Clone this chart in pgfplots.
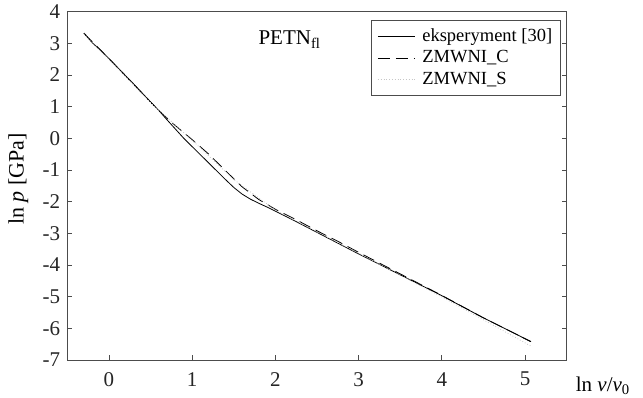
\documentclass[border=0pt]{standalone}
\usepackage{fontspec}
\setmainfont{Liberation Serif}
\usepackage{pgfplots}
\pgfplotsset{compat=1.18}
\begin{document}
\fontsize{21}{24}\selectfont
\begin{tikzpicture}
\useasboundingbox (-67.3pt,-37pt) rectangle (575.7pt,360pt);
\begin{axis}[
  at={(0pt,0pt)}, anchor=south west,
  scale only axis, width=499.4pt, height=348.3pt,
  xmin=-0.5, xmax=5.5, ymin=-7, ymax=4,
  xtick={0,1,2,3,4,5}, ytick={-7,-6,-5,-4,-3,-2,-1,0,1,2,3,4},
  tick align=inside, xtick pos=bottom, ytick pos=both,
  major tick length=5pt,
  axis line style={gray!60!black, line width=0.8pt},
  tick style={gray!60!black, line width=0.8pt},
  /pgf/number format/assume math mode=true,
  ticklabel style={font=\fontsize{21}{24}\selectfont, text=black!85},
  xticklabel style={yshift=-5pt},
  xlabel={ln \textit{v}/\textit{v}\textsubscript{0}},
  xlabel style={at={(axis description cs:1,0)}, anchor=base west, xshift=2pt, yshift=-31pt, font=\fontsize{21}{24}\selectfont},
  ylabel={ln \textit{p} [GPa]},
  ylabel style={at={(axis description cs:-0.098,0.52)}, anchor=center, font=\fontsize{22}{24}\selectfont},
  legend style={at={(axis description cs:0.988,0.976)}, anchor=north east,
    draw=gray!60!black, line width=0.8pt, font=\fontsize{18.5}{21}\selectfont,
    row sep=2pt, inner xsep=6pt, inner ysep=6pt,
    /tikz/every odd column/.append style={column sep=5pt}},
  legend cell align=left,
  legend image code/.code={\draw[#1] (0pt,0pt) -- (37pt,0pt);},
]
\addplot[black, line width=0.8pt] coordinates {
(-0.30,3.32) (-0.2,3.02) (-0.1,2.78) (0,2.52) (0.1,2.25) (0.2,1.98) (0.3,1.71)
(0.4,1.43) (0.5,1.15) (0.6,0.88) (0.7,0.58) (0.8,0.29) (0.9,0.0) (1.0,-0.26)
(1.1,-0.52) (1.2,-0.78) (1.3,-1.04) (1.4,-1.3) (1.5,-1.55) (1.6,-1.76)
(1.7,-1.92) (1.8,-2.05) (1.9,-2.17) (2.0,-2.3) (2.25,-2.63) (2.5,-2.97)
(2.75,-3.31) (3.0,-3.65) (3.5,-4.31) (4.0,-4.97) (4.5,-5.67) (5.07,-6.42)
};
\addlegendentry{eksperyment [30]}
\addplot[black, line width=0.8pt, dash pattern=on 12pt off 6pt] coordinates {
(-0.3,3.32) (0,2.52) (0.5,1.15) (0.6,0.88) (0.7,0.63) (0.8,0.40) (0.9,0.18)
(1.0,-0.04) (1.2,-0.50) (1.4,-1.02) (1.6,-1.53) (1.8,-1.93) (2.0,-2.24)
(2.25,-2.57) (2.5,-2.92) (2.75,-3.25) (3.0,-3.6) (3.5,-4.28) (4.0,-4.96)
(4.5,-5.67) (5.07,-6.42)
};
\addlegendentry{ZMWNI\_C}
\addplot[gray!45, line width=0.8pt, dotted] coordinates {
(-0.3,3.30) (0,2.5) (0.5,1.13) (1.0,-0.06) (1.5,-1.3) (2.0,-2.27) (2.5,-2.95)
(3.0,-3.63) (3.5,-4.32) (4.0,-5.01) (4.5,-5.73) (5.07,-6.56)
};
\addlegendentry{ZMWNI\_S}
\node[font=\fontsize{21}{24}\selectfont] at (axis cs:2.17,3.12) {PETN\textsubscript{fl}};
\end{axis}
\end{tikzpicture}
\end{document}
